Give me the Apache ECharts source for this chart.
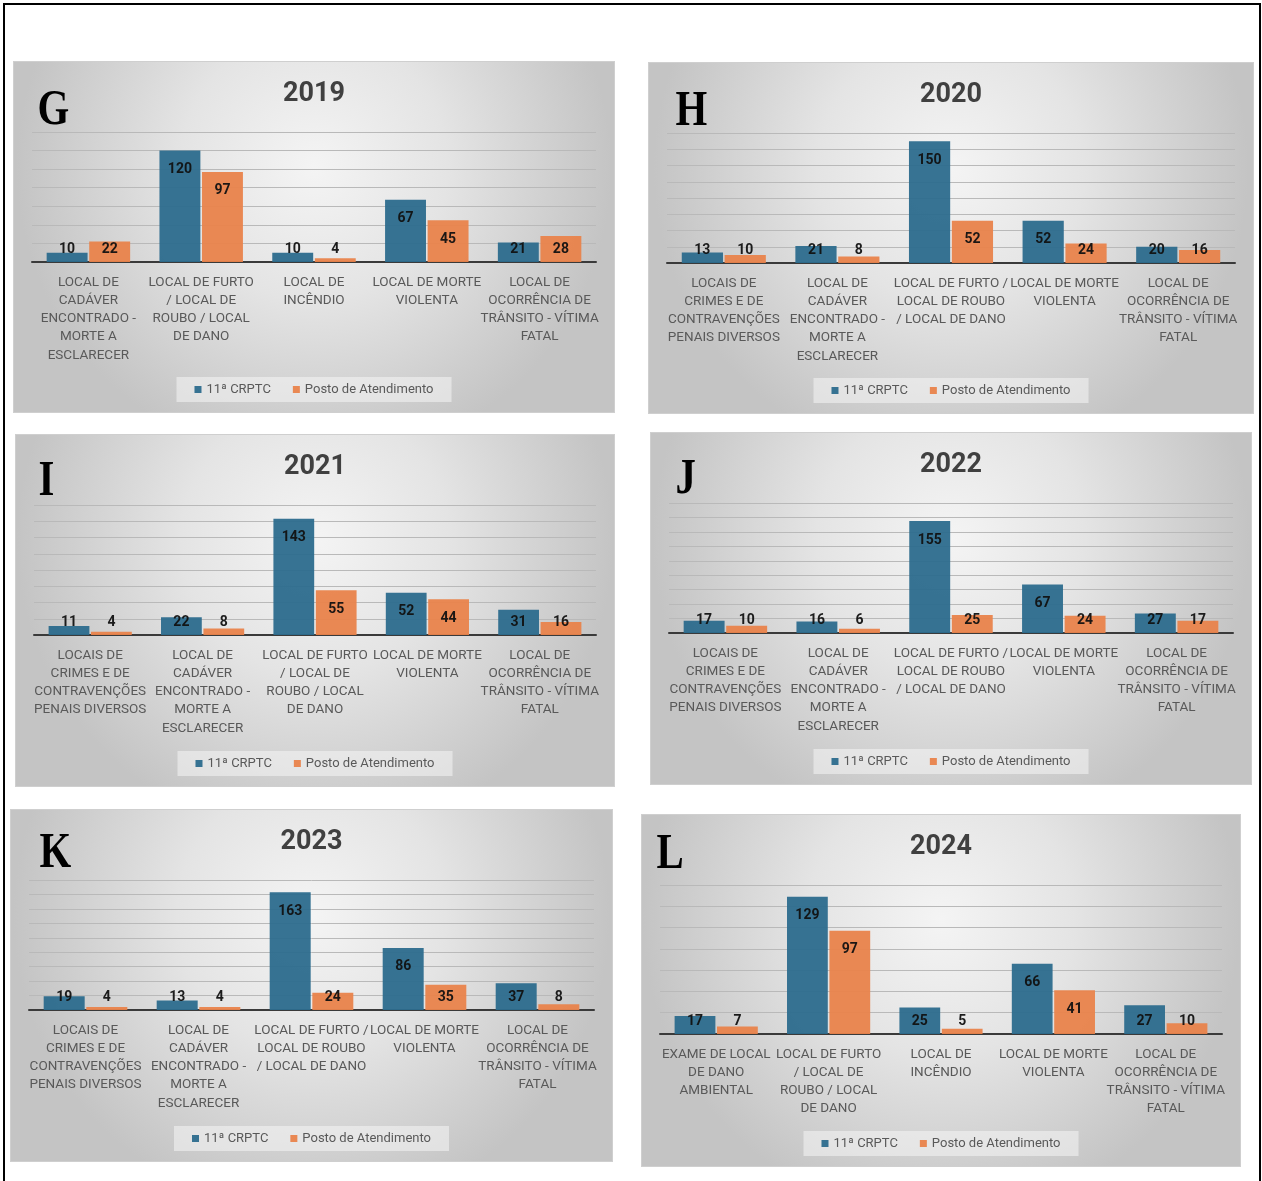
<!DOCTYPE html>
<html>
<head>
<meta charset="utf-8">
<script src="https://cdn.jsdelivr.net/npm/echarts@6/dist/echarts.min.js"></script>
<style>
  html, body { margin:0; padding:0; background:#fff; overflow:hidden; width:1262px; height:1181px; }
  #frame { position:absolute; left:3px; top:3px; width:1254px; height:1220px; border:2px solid #000; box-sizing:content-box; }
  .panel { position:absolute; box-sizing:border-box; border:1px solid #cfcfcf; }
</style>
</head>
<body>
<div id="frame"></div>
<div id="pG" class="panel"></div>
<div id="pH" class="panel"></div>
<div id="pI" class="panel"></div>
<div id="pJ" class="panel"></div>
<div id="pK" class="panel"></div>
<div id="pL" class="panel"></div>
<script>
// ---------------- DATA ----------------
const SERIES_NAMES = ['11ª CRPTC', 'Posto de Atendimento'];

const CATS_2019 = ['LOCAL DE\nCADÁVER\nENCONTRADO -\nMORTE A\nESCLARECER', 'LOCAL DE FURTO\n/ LOCAL DE\nROUBO / LOCAL\nDE DANO', 'LOCAL DE\nINCÊNDIO', 'LOCAL DE MORTE\nVIOLENTA', 'LOCAL DE\nOCORRÊNCIA DE\nTRÂNSITO - VÍTIMA\nFATAL'];
const CRPTC_2019 = [10, 120, 10, 67, 21];
const POSTO_2019 = [22, 97, 4, 45, 28];

const CATS_2020 = ['LOCAIS DE\nCRIMES E DE\nCONTRAVENÇÕES\nPENAIS DIVERSOS', 'LOCAL DE\nCADÁVER\nENCONTRADO -\nMORTE A\nESCLARECER', 'LOCAL DE FURTO /\nLOCAL DE ROUBO\n/ LOCAL DE DANO', 'LOCAL DE MORTE\nVIOLENTA', 'LOCAL DE\nOCORRÊNCIA DE\nTRÂNSITO - VÍTIMA\nFATAL'];
const CRPTC_2020 = [13, 21, 150, 52, 20];
const POSTO_2020 = [10, 8, 52, 24, 16];

const CATS_2021 = ['LOCAIS DE\nCRIMES E DE\nCONTRAVENÇÕES\nPENAIS DIVERSOS', 'LOCAL DE\nCADÁVER\nENCONTRADO -\nMORTE A\nESCLARECER', 'LOCAL DE FURTO\n/ LOCAL DE\nROUBO / LOCAL\nDE DANO', 'LOCAL DE MORTE\nVIOLENTA', 'LOCAL DE\nOCORRÊNCIA DE\nTRÂNSITO - VÍTIMA\nFATAL'];
const CRPTC_2021 = [11, 22, 143, 52, 31];
const POSTO_2021 = [4, 8, 55, 44, 16];

const CATS_2022 = ['LOCAIS DE\nCRIMES E DE\nCONTRAVENÇÕES\nPENAIS DIVERSOS', 'LOCAL DE\nCADÁVER\nENCONTRADO -\nMORTE A\nESCLARECER', 'LOCAL DE FURTO /\nLOCAL DE ROUBO\n/ LOCAL DE DANO', 'LOCAL DE MORTE\nVIOLENTA', 'LOCAL DE\nOCORRÊNCIA DE\nTRÂNSITO - VÍTIMA\nFATAL'];
const CRPTC_2022 = [17, 16, 155, 67, 27];
const POSTO_2022 = [10, 6, 25, 24, 17];

const CATS_2023 = ['LOCAIS DE\nCRIMES E DE\nCONTRAVENÇÕES\nPENAIS DIVERSOS', 'LOCAL DE\nCADÁVER\nENCONTRADO -\nMORTE A\nESCLARECER', 'LOCAL DE FURTO /\nLOCAL DE ROUBO\n/ LOCAL DE DANO', 'LOCAL DE MORTE\nVIOLENTA', 'LOCAL DE\nOCORRÊNCIA DE\nTRÂNSITO - VÍTIMA\nFATAL'];
const CRPTC_2023 = [19, 13, 163, 86, 37];
const POSTO_2023 = [4, 4, 24, 35, 8];

const CATS_2024 = ['EXAME DE LOCAL\nDE DANO\nAMBIENTAL', 'LOCAL DE FURTO\n/ LOCAL DE\nROUBO / LOCAL\nDE DANO', 'LOCAL DE\nINCÊNDIO', 'LOCAL DE MORTE\nVIOLENTA', 'LOCAL DE\nOCORRÊNCIA DE\nTRÂNSITO - VÍTIMA\nFATAL'];
const CRPTC_2024 = [17, 129, 25, 66, 27];
const POSTO_2024 = [7, 97, 5, 41, 10];

const PANEL_LETTERS = ['G', 'H', 'I', 'J', 'K', 'L'];
const PANEL_YEARS = ['2019', '2020', '2021', '2022', '2023', '2024'];
const AXIS_MAX = [140, 160, 160, 180, 180, 140];
const AXIS_INTERVAL = 20;

// ---------------- LAYOUT ----------------
const LAYOUT = [
  { id:'pG', left:13,  top:61,  width:602, height:352, gridBottom:150, letterX:23.5, letterY:23.5 },
  { id:'pH', left:648, top:62,  width:606, height:352, gridBottom:150, letterX:26.5, letterY:23.5 },
  { id:'pI', left:15,  top:434, width:600, height:353, gridBottom:151, letterX:22.5, letterY:21.5 },
  { id:'pJ', left:650, top:432, width:602, height:353, gridBottom:151, letterX:24.5, letterY:21.5 },
  { id:'pK', left:10,  top:809, width:603, height:353, gridBottom:151, letterX:28.5, letterY:18.5 },
  { id:'pL', left:641, top:814, width:600, height:353, gridBottom:132, letterX:14.5, letterY:14.5 }
];

const DATASETS = [
  [CATS_2019, CRPTC_2019, POSTO_2019],
  [CATS_2020, CRPTC_2020, POSTO_2020],
  [CATS_2021, CRPTC_2021, POSTO_2021],
  [CATS_2022, CRPTC_2022, POSTO_2022],
  [CATS_2023, CRPTC_2023, POSTO_2023],
  [CATS_2024, CRPTC_2024, POSTO_2024]
];

const BLUE = '#2C6B8D';
const ORANGE = '#E9834B';
const GRID_TOP = 70;

function buildData(values, max, plotH) {
  return values.map(v => {
    const px = v / max * plotH;
    const lab = px >= 32
      ? { position: 'insideTop', distance: 12 }
      : { position: 'insideBottom', distance: 6 };
    return { value: v, label: lab };
  });
}

LAYOUT.forEach((L, i) => {
  const el = document.getElementById(L.id);
  el.style.left = L.left + 'px';
  el.style.top = L.top + 'px';
  el.style.width = L.width + 'px';
  el.style.height = L.height + 'px';
  const chart = echarts.init(el, null, { renderer: 'canvas', width: L.width - 2, height: L.height - 2 });
  const [cats, a, b] = DATASETS[i];
  const max = AXIS_MAX[i];
  const plotH = (L.height - 2) - GRID_TOP - L.gridBottom;
  const labelStyle = { show: true, color: '#111', fontSize: 14, fontWeight: 'bold', fontFamily: 'Roboto' };
  chart.setOption({
    animation: false,
    backgroundColor: {
      type: 'radial', x: 0.5, y: 0.3, r: 0.85,
      colorStops: [
        { offset: 0, color: '#f4f4f4' },
        { offset: 0.45, color: '#e4e4e4' },
        { offset: 1, color: '#c4c4c4' }
      ]
    },
    title: [
      { text: PANEL_YEARS[i], left: 'center', top: 14,
        textStyle: { fontSize: 27, fontWeight: 'bold', color: '#404040', fontFamily: 'Roboto' } }
    ],
    graphic: [
      { type: 'text', x: L.letterX, y: L.letterY, scaleX: 0.8, scaleY: 1,
        style: { text: PANEL_LETTERS[i], x: 0, y: 0, fill: '#000',
          font: 'bold 51px "Liberation Serif"', verticalAlign: 'top', align: 'left' } }
    ],
    legend: {
      data: SERIES_NAMES,
      bottom: 10,
      left: 'center',
      icon: 'rect',
      itemWidth: 7, itemHeight: 7, itemGap: 22,
      padding: [6, 18],
      backgroundColor: 'rgba(245,245,245,0.55)',
      textStyle: { fontSize: 13, color: '#595959', fontFamily: 'Roboto' }
    },
    grid: { left: 18, right: 18, top: GRID_TOP, bottom: L.gridBottom, containLabel: false },
    xAxis: {
      type: 'category',
      data: cats,
      axisTick: { show: false },
      axisLine: { lineStyle: { color: '#3a3a3a', width: 2 } },
      axisLabel: { interval: 0, color: '#595959', fontSize: 13.5, lineHeight: 18.3, margin: 11, fontFamily: 'Roboto' }
    },
    yAxis: {
      type: 'value', min: 0, max: max, interval: AXIS_INTERVAL,
      axisLabel: { show: false },
      axisLine: { show: false },
      axisTick: { show: false },
      splitLine: { lineStyle: { color: '#b9b9b9', width: 1 } }
    },
    series: [
      { name: SERIES_NAMES[0], type: 'bar', data: buildData(a, max, plotH),
        barGap: '4%', barCategoryGap: '26%',
        itemStyle: { color: BLUE, opacity: 0.95 }, label: labelStyle },
      { name: SERIES_NAMES[1], type: 'bar', data: buildData(b, max, plotH),
        itemStyle: { color: ORANGE, opacity: 0.95 }, label: labelStyle }
    ]
  });
});
</script>
</body>
</html>
